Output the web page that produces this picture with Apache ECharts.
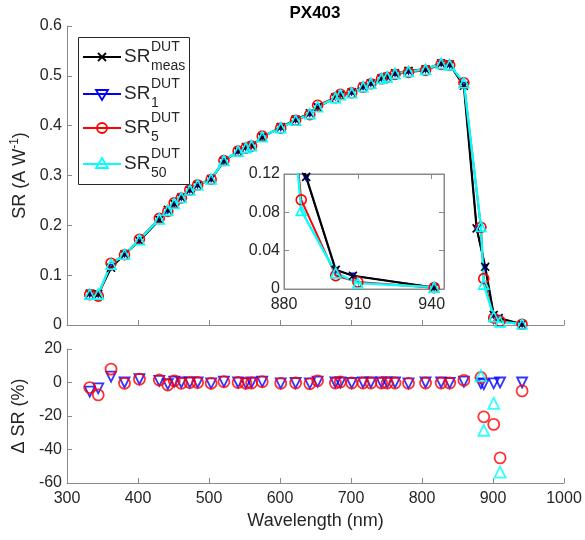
<!DOCTYPE html>
<html>
<head>
<meta charset="utf-8">
<script src="https://cdn.jsdelivr.net/npm/echarts@6/dist/echarts.min.js"></script>
<style>
  html, body { margin: 0; padding: 0; background: #fff; }
  #chart { width: 585px; height: 540px; }
</style>
</head>
<body>
<div id="chart"></div>
<script>
// Wavelengths (nm) of the reconstructed points (also used for the deviations)
const wavelength = [332, 344, 362, 381, 402, 430, 442, 451, 461, 473, 484, 503, 521, 541, 552, 560, 575, 601, 622, 642,
                    653, 678, 685, 701, 717, 728, 743, 751, 762, 781, 805, 827, 839, 859, 883, 887, 901, 910, 941];
// Wavelengths (nm) of the measured points (differ only at the band edge)
const wavelengthMeas = [332, 344, 362, 381, 402, 430, 442, 451, 461, 473, 484, 503, 521, 541, 552, 560, 575, 601, 622, 642,
                        653, 678, 685, 701, 717, 728, 743, 751, 762, 781, 805, 827, 839, 859, 877, 889, 901, 908, 941];

// Spectral response (A/W): measured and the three reconstructions
const srMeas = [0.063, 0.062, 0.115, 0.142, 0.169, 0.211, 0.231, 0.243, 0.256, 0.271, 0.281, 0.293, 0.329, 0.349, 0.357, 0.360, 0.377, 0.397, 0.412, 0.425,
                0.437, 0.457, 0.462, 0.467, 0.478, 0.485, 0.495, 0.498, 0.505, 0.510, 0.513, 0.525, 0.523, 0.480, 0.194, 0.117, 0.0200, 0.0138, 0.0015];
const sr1    = [0.062, 0.062, 0.116, 0.142, 0.170, 0.212, 0.230, 0.243, 0.256, 0.271, 0.281, 0.293, 0.329, 0.349, 0.356, 0.360, 0.378, 0.396, 0.412, 0.424,
                0.438, 0.457, 0.462, 0.467, 0.478, 0.485, 0.495, 0.498, 0.505, 0.509, 0.513, 0.525, 0.522, 0.481, 0.193, 0.116, 0.0199, 0.0138, 0.0015];
const sr5    = [0.061, 0.058, 0.124, 0.141, 0.172, 0.214, 0.228, 0.245, 0.255, 0.271, 0.281, 0.292, 0.330, 0.349, 0.355, 0.359, 0.379, 0.395, 0.411, 0.422,
                0.441, 0.456, 0.463, 0.466, 0.477, 0.484, 0.494, 0.497, 0.503, 0.507, 0.511, 0.523, 0.521, 0.486, 0.196, 0.093, 0.0140, 0.0073, 0.0014];
const sr50   = [0.062, 0.062, 0.122, 0.142, 0.171, 0.213, 0.230, 0.244, 0.256, 0.271, 0.281, 0.293, 0.330, 0.349, 0.356, 0.360, 0.378, 0.396, 0.411, 0.424,
                0.438, 0.456, 0.462, 0.466, 0.478, 0.485, 0.495, 0.498, 0.505, 0.509, 0.513, 0.525, 0.522, 0.486, 0.198, 0.082, 0.0168, 0.0062, 0.0020];

// Relative deviation from the measured response (%)
const dSr1  = [-5.5, -3.5, 3.5, 0, 2, 1, -1, 0.5, 0, 0, 0, -0.5, 0.5, 0, -0.5, 0, 0.5, -0.5, -0.3, -0.5,
               0.5, 0, 0, -0.3, 0, 0, 0, 0, 0, -0.5, 0, 0, -0.3, 0.5, -0.5, -1, -0.5, 0, 0];
const dSr5  = [-3, -7.4, 8, -0.5, 2, 1.5, -1.5, 1, -0.5, 0, 0, -0.5, 0.5, 0, -0.5, -0.3, 0.5, -0.5, -0.3, -0.8,
               1, -0.3, 0.3, -0.3, -0.3, -0.3, -0.3, -0.3, -0.3, -0.5, -0.3, -0.3, -0.3, 1.3, 3, -20.5, -25, -45, -5];
const dSr50 = [null, null, null, null, null, null, null, null, null, null, null, null, null, null, null, null, null, null, null, null,
               null, null, null, null, null, null, null, null, null, null, null, null, null, null, 4, -28.5, -12.5, -53.5, null];

// Axis ranges: [min, max, interval]
const wlRange = [300, 1000, 100];
const srRange = [0, 0.6, 0.1];
const dRange = [-60, 20, 20];
const insetWl = [880, 945, 30];
const insetSr = [0, 0.12, 0.04];

const FONT = 'Liberation Sans';
const AX = '#262626';
const LINE = '#8a8a8a';

const pairs = (xs, ys) => xs.map((w, i) => [w, ys[i]]);

const colors = { meas: '#000000', n1: '#0000ff', n5: '#ff0000', n50: '#00ffff' };
const xPath = 'path://M0,0L10,10M10,0L0,10';

function axisCommon(extra) {
  return Object.assign({
    axisLine: { show: true, onZero: false, lineStyle: { color: LINE, width: 1 } },
    axisTick: { show: true, inside: true, length: 5, lineStyle: { color: LINE, width: 1 } },
    splitLine: { show: false },
    axisLabel: { color: AX, fontFamily: FONT, fontSize: 16 }
  }, extra);
}

function srSeries(name, xs, ys, color, symbol, rotate, gi, size, width) {
  return {
    name, type: 'line', xAxisIndex: gi, yAxisIndex: gi, data: pairs(xs, ys),
    symbol, symbolSize: size, symbolRotate: rotate, showAllSymbol: true,
    lineStyle: { color, width },
    itemStyle: { color: 'none', borderColor: color, borderWidth: 1.6 },
    emphasis: { disabled: true }, animation: false, clip: true
  };
}

function deltaSeries(name, ys, color, symbol, rotate, size) {
  return {
    name, type: 'scatter', xAxisIndex: 1, yAxisIndex: 1,
    data: pairs(wavelength, ys).filter(p => p[1] !== null),
    symbol, symbolSize: size, symbolRotate: rotate,
    itemStyle: { color: 'none', borderColor: color, borderWidth: 1.8 },
    emphasis: { disabled: true }, animation: false
  };
}

// Plot order: SR1 underneath the measurement, then SR5 and SR50 on top
function srGroup(gi, z) {
  return [
    srSeries('SR1', wavelengthMeas, sr1, colors.n1, 'triangle', 180, gi, 5, 1.4),
    srSeries('SRmeas', wavelengthMeas, srMeas, colors.meas, xPath, 0, gi, 8, 2.2),
    srSeries('SR5', wavelength, sr5, colors.n5, 'circle', 0, gi, 10, 2),
    srSeries('SR50', wavelength, sr50, colors.n50, 'triangle', 0, gi, 10, 2.3)
  ].map(s => Object.assign(s, { z }));
}

// Legend drawn as graphic elements so the super/subscripts can stack
const legendX = 78, legendY = 37, legendW = 111, legendH = 147;
const legendRows = [
  { y: 57, color: colors.meas, mark: 'x', sub: 'meas' },
  { y: 94, color: colors.n1, mark: 'down', sub: '1' },
  { y: 128, color: colors.n5, mark: 'circle', sub: '5' },
  { y: 164, color: colors.n50, mark: 'up', sub: '50' }
];
const legendGraphics = [{
  type: 'rect', shape: { x: legendX + 0.5, y: legendY + 0.5, width: legendW, height: legendH },
  style: { fill: '#fff', stroke: '#262626', lineWidth: 1 }, z: 10
}];
legendRows.forEach(r => {
  const cx = 102, x0 = 83, x1 = 121;
  legendGraphics.push({ type: 'line', shape: { x1: x0, y1: r.y, x2: x1, y2: r.y },
    style: { stroke: r.color, lineWidth: 2 }, z: 11 });
  let m;
  if (r.mark === 'x') {
    m = { type: 'polyline', shape: { points: [[cx - 4, r.y - 4], [cx + 4, r.y + 4]] }, style: { stroke: r.color, lineWidth: 1.8 } };
    legendGraphics.push({ type: 'polyline', shape: { points: [[cx + 4, r.y - 4], [cx - 4, r.y + 4]] }, style: { stroke: r.color, lineWidth: 1.8 }, z: 12 });
  } else if (r.mark === 'circle') {
    m = { type: 'circle', shape: { cx, cy: r.y, r: 5 }, style: { fill: 'none', stroke: r.color, lineWidth: 1.8 } };
  } else if (r.mark === 'down') {
    m = { type: 'polygon', shape: { points: [[cx - 6, r.y - 4], [cx + 6, r.y - 4], [cx, r.y + 6]] }, style: { fill: 'none', stroke: r.color, lineWidth: 1.8 } };
  } else {
    m = { type: 'polygon', shape: { points: [[cx - 6, r.y + 4], [cx + 6, r.y + 4], [cx, r.y - 6]] }, style: { fill: 'none', stroke: r.color, lineWidth: 1.8 } };
  }
  m.z = 12;
  legendGraphics.push(m);
  legendGraphics.push({ type: 'text', x: 124, y: r.y, z: 12,
    style: { text: 'SR', fill: AX, font: '19px ' + FONT, textVerticalAlign: 'middle' } });
  legendGraphics.push({ type: 'text', x: 151, y: r.y - 10, z: 12,
    style: { text: 'DUT', fill: AX, font: '14px ' + FONT, textVerticalAlign: 'middle' } });
  legendGraphics.push({ type: 'text', x: 151, y: r.y + 9, z: 12,
    style: { text: r.sub, fill: AX, font: '14px ' + FONT, textVerticalAlign: 'middle' } });
});

const plainNum = v => String(Math.round(v * 1000) / 1000);

const option = {
  backgroundColor: '#fff',
  animation: false,
  title: {
    text: 'PX403', left: 310, top: 0, textAlign: 'center',
    textStyle: { fontFamily: FONT, fontSize: 17, fontWeight: 'bold', color: '#000' }
  },
  grid: [
    { left: 67, top: 26, width: 497, height: 299 },
    { left: 67, top: 349, width: 497, height: 134 },
    { left: 284, top: 174, width: 160, height: 115, show: true, backgroundColor: '#fff', borderColor: LINE, borderWidth: 1, z: 5 }
  ],
  xAxis: [
    axisCommon({ type: 'value', gridIndex: 0, min: wlRange[0], max: wlRange[1], interval: wlRange[2],
      axisLabel: { show: false } }),
    axisCommon({ type: 'value', gridIndex: 1, min: wlRange[0], max: wlRange[1], interval: wlRange[2],
      name: 'Wavelength (nm)', nameLocation: 'middle', nameGap: 29,
      nameTextStyle: { fontFamily: FONT, fontSize: 18, color: AX },
      axisLabel: { color: AX, fontFamily: FONT, fontSize: 16, margin: 8, formatter: plainNum } }),
    axisCommon({ type: 'value', gridIndex: 2, min: insetWl[0], max: insetWl[1], interval: insetWl[2], z: 6,
      axisLabel: { color: AX, fontFamily: FONT, fontSize: 16, margin: 8, showMaxLabel: false, formatter: plainNum } }),
    axisCommon({ type: 'value', gridIndex: 2, position: 'top', min: insetWl[0], max: insetWl[1], interval: insetWl[2], z: 6,
      axisLabel: { show: false } })
  ],
  yAxis: [
    axisCommon({ type: 'value', gridIndex: 0, min: srRange[0], max: srRange[1], interval: srRange[2],
      name: 'SR (A W{sup|-1})', nameLocation: 'middle', nameGap: 34, nameRotate: 90,
      nameTextStyle: { fontFamily: FONT, fontSize: 18, color: AX,
        rich: { sup: { fontFamily: FONT, fontSize: 12, color: AX, verticalAlign: 'top', lineHeight: 22 } } },
      axisLabel: { color: AX, fontFamily: FONT, fontSize: 16, margin: 5, formatter: plainNum } }),
    axisCommon({ type: 'value', gridIndex: 1, min: dRange[0], max: dRange[1], interval: dRange[2],
      name: 'Δ SR (%)', nameLocation: 'middle', nameGap: 37, nameRotate: 90,
      nameTextStyle: { fontFamily: FONT, fontSize: 18, color: AX },
      axisLabel: { color: AX, fontFamily: FONT, fontSize: 16, margin: 5, formatter: plainNum } }),
    axisCommon({ type: 'value', gridIndex: 2, min: insetSr[0], max: insetSr[1], interval: insetSr[2], z: 6,
      axisLabel: { color: AX, fontFamily: FONT, fontSize: 16, margin: 4, formatter: plainNum } }),
    axisCommon({ type: 'value', gridIndex: 2, position: 'right', min: insetSr[0], max: insetSr[1], interval: insetSr[2], z: 6,
      axisLabel: { show: false } })
  ],
  series: [
    ...srGroup(0, 2),
    ...srGroup(2, 7),
    deltaSeries('dSR1', dSr1, colors.n1, 'triangle', 180, 10),
    deltaSeries('dSR5', dSr5, colors.n5, 'circle', 0, 11),
    deltaSeries('dSR50', dSr50, colors.n50, 'triangle', 0, 11)
  ],
  graphic: legendGraphics
};

const chart = echarts.init(document.getElementById('chart'), null, { renderer: 'canvas' });
chart.setOption(option);
</script>
</body>
</html>
